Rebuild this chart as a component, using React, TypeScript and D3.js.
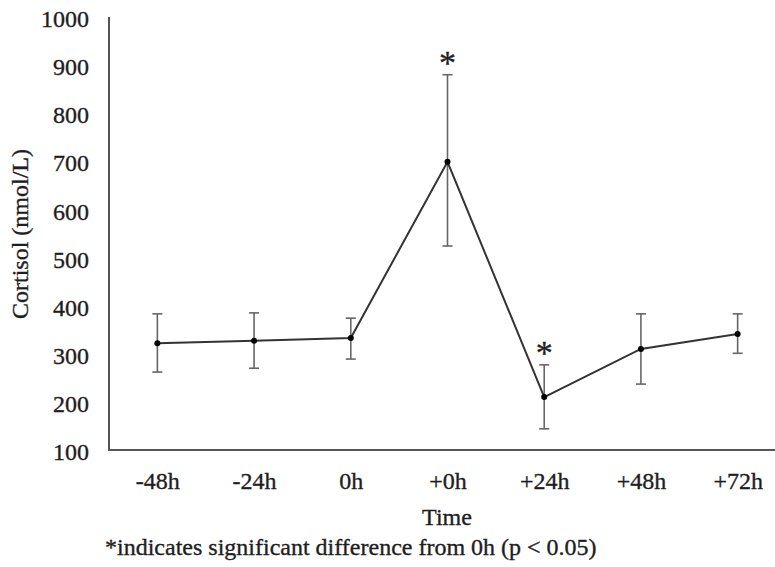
import React, { useRef, useEffect } from 'react';
import * as d3 from 'd3';

const times = ['-48h', '-24h', '0h', '+0h', '+24h', '+48h', '+72h'];
const cortisol = [322, 327, 333, 699, 210, 310, 341];
const errUp = [383, 385, 374, 880, 277, 383, 383];
const errLow = [262, 270, 289, 524, 144, 237, 301];
const significant = [false, false, false, true, true, false, false];
const yTicks = [100, 200, 300, 400, 500, 600, 700, 800, 900, 1000];

const W = 775;
const H = 567;
const FONT = '"Liberation Serif", "Times New Roman", serif';
const INK = '#1e1e1e';

const App = () => {
  const ref = useRef<SVGSVGElement>(null);

  useEffect(() => {
    const svg = d3.select(ref.current);
    svg.selectAll('*').remove();

    const x = d3.scalePoint<string>().domain(times).range([109, 786]).padding(0.5);
    const y = d3.scaleLinear().domain([100, 1000]).range([450, 17]);

    const txt = (sel: any, size: number) =>
      sel
        .attr('font-family', FONT)
        .attr('font-size', size)
        .attr('fill', INK)
        .attr('stroke', INK)
        .attr('stroke-width', 0.35);

    // axes
    const yAxis = d3.axisLeft(y).tickValues(yTicks).tickFormat(d3.format('d')).tickSize(0).tickPadding(20);
    const gy = svg.append('g').attr('transform', 'translate(109,0)').call(yAxis);
    gy.select('.domain').remove();
    txt(gy.selectAll('text'), 24).attr('dy', '0.4em');

    const xAxis = d3.axisBottom(x).tickSize(0).tickPadding(22);
    const gx = svg.append('g').attr('transform', 'translate(0,450)').call(xAxis);
    gx.select('.domain').remove();
    txt(gx.selectAll('text'), 24);

    svg.append('path')
      .attr('d', `M109,17V450H${W}`)
      .attr('fill', 'none')
      .attr('stroke', '#555')
      .attr('stroke-width', 2);

    // error bars
    const eb = svg.append('g').attr('stroke', '#666').attr('stroke-width', 1.6);
    times.forEach((t, i) => {
      const cx = x(t)!;
      eb.append('line').attr('x1', cx).attr('x2', cx).attr('y1', y(errUp[i])).attr('y2', y(errLow[i]));
      eb.append('line').attr('x1', cx - 5).attr('x2', cx + 5).attr('y1', y(errUp[i])).attr('y2', y(errUp[i]));
      eb.append('line').attr('x1', cx - 5).attr('x2', cx + 5).attr('y1', y(errLow[i])).attr('y2', y(errLow[i]));
    });

    const line = d3.line<number>()
      .x((d, i) => x(times[i])!)
      .y(d => y(d));
    svg.append('path')
      .datum(cortisol)
      .attr('d', line)
      .attr('fill', 'none')
      .attr('stroke', '#333')
      .attr('stroke-width', 2);

    svg.selectAll('.pt')
      .data(cortisol)
      .join('circle')
      .attr('class', 'pt')
      .attr('cx', (d, i) => x(times[i])!)
      .attr('cy', d => y(d))
      .attr('r', 3)
      .attr('fill', '#000');

    txt(
      svg.selectAll('.star')
        .data(times.filter((t, i) => significant[i]))
        .join('text')
        .attr('class', 'star')
        .attr('x', t => x(t)!)
        .attr('y', t => y(errUp[times.indexOf(t)]) - 1)
        .attr('text-anchor', 'middle')
        .text('*'),
      34
    );

    // titles
    txt(
      svg.append('text')
        .attr('transform', 'translate(28,234) rotate(-90)')
        .attr('text-anchor', 'middle')
        .text('Cortisol (nmol/L)'),
      24
    );

    txt(
      svg.append('text')
        .attr('x', 447)
        .attr('y', 525)
        .attr('text-anchor', 'middle')
        .text('Time'),
      24
    );

    txt(
      svg.append('text')
        .attr('x', 105)
        .attr('y', 555)
        .text('*indicates significant difference from 0h (p < 0.05)'),
      24
    );
  }, []);

  return (
    <svg
      ref={ref}
      width={W}
      height={H}
      style={{ position: 'absolute', left: 0, top: 0, background: '#fff' }}
    />
  );
};

export default App;
